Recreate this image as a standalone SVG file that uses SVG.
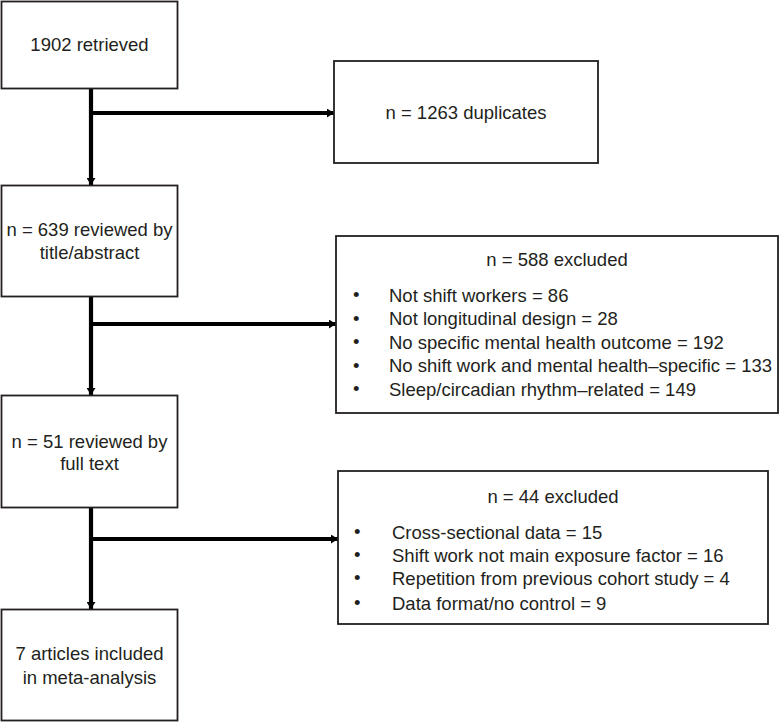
<svg xmlns="http://www.w3.org/2000/svg" width="780" height="722" viewBox="0 0 780 722">
<defs>
<style>
.box{fill:#fff;stroke:#231f20;stroke-width:1.8}
.t{font-family:"Liberation Sans",Arial,sans-serif;font-size:18.5px;fill:#231f20}
.c{text-anchor:middle}
.conn{stroke:#000;stroke-width:4.2;fill:none}
</style>
<marker id="ah" markerUnits="userSpaceOnUse" markerWidth="7" markerHeight="9" refX="7" refY="4.5" orient="auto">
<path d="M0,0 L7,4.5 L0,9 z" fill="#000"/>
</marker>
</defs>
<rect width="780" height="722" fill="#fff"/>
<g id="connectors">
<line class="conn" x1="91" y1="88" x2="91" y2="185" marker-end="url(#ah)"/>
<line class="conn" x1="91" y1="113" x2="334" y2="113" marker-end="url(#ah)"/>
<line class="conn" x1="91" y1="297" x2="91" y2="395" marker-end="url(#ah)"/>
<line class="conn" x1="91" y1="324" x2="336" y2="324" marker-end="url(#ah)"/>
<line class="conn" x1="91" y1="508" x2="91" y2="609" marker-end="url(#ah)"/>
<line class="conn" x1="91" y1="539" x2="338" y2="539" marker-end="url(#ah)"/>
</g>
<g id="retrieved">
<rect class="box" x="1.5" y="1.5" width="176" height="87"/>
<text class="t c" x="89.5" y="51">1902 retrieved</text>
</g>
<g id="duplicates">
<rect class="box" x="334" y="61" width="264" height="102"/>
<text class="t c" x="466" y="119">n = 1263 duplicates</text>
</g>
<g id="title-abstract">
<rect class="box" x="1.5" y="185.5" width="176" height="111"/>
<text class="t c" x="89.5" y="235.5">n = 639 reviewed by</text>
<text class="t c" x="89.5" y="258.5">title/abstract</text>
</g>
<g id="excluded-588">
<rect class="box" x="336" y="236" width="442" height="177"/>
<text class="t c" x="557" y="265.5">n = 588 excluded</text>
<g class="t">
<text x="353" y="301">•</text><text x="389" y="301.5">Not shift workers = 86</text>
<text x="353" y="324.5">•</text><text x="389" y="325">Not longitudinal design = 28</text>
<text x="353" y="348">•</text><text x="389" y="348.5">No specific mental health outcome = 192</text>
<text x="353" y="371.5">•</text><text x="389" y="372">No shift work and mental health–specific = 133</text>
<text x="353" y="395">•</text><text x="389" y="395.5">Sleep/circadian rhythm–related = 149</text>
</g>
</g>
<g id="full-text">
<rect class="box" x="1.5" y="395.5" width="176" height="112"/>
<text class="t c" x="89.5" y="447.5">n = 51 reviewed by</text>
<text class="t c" x="89.5" y="469.5">full text</text>
</g>
<g id="excluded-44">
<rect class="box" x="338" y="471" width="430" height="153"/>
<text class="t c" x="553" y="502.5">n = 44 excluded</text>
<g class="t">
<text x="354" y="537.5">•</text><text x="392" y="538.5">Cross-sectional data = 15</text>
<text x="354" y="561">•</text><text x="392" y="561.5">Shift work not main exposure factor = 16</text>
<text x="354" y="584">•</text><text x="392" y="584.5">Repetition from previous cohort study = 4</text>
<text x="354" y="609">•</text><text x="392" y="610">Data format/no control = 9</text>
</g>
</g>
<g id="included">
<rect class="box" x="1.5" y="609.5" width="176" height="111"/>
<text class="t c" x="89.5" y="659.5">7 articles included</text>
<text class="t c" x="89.5" y="683.5">in meta-analysis</text>
</g>
</svg>
